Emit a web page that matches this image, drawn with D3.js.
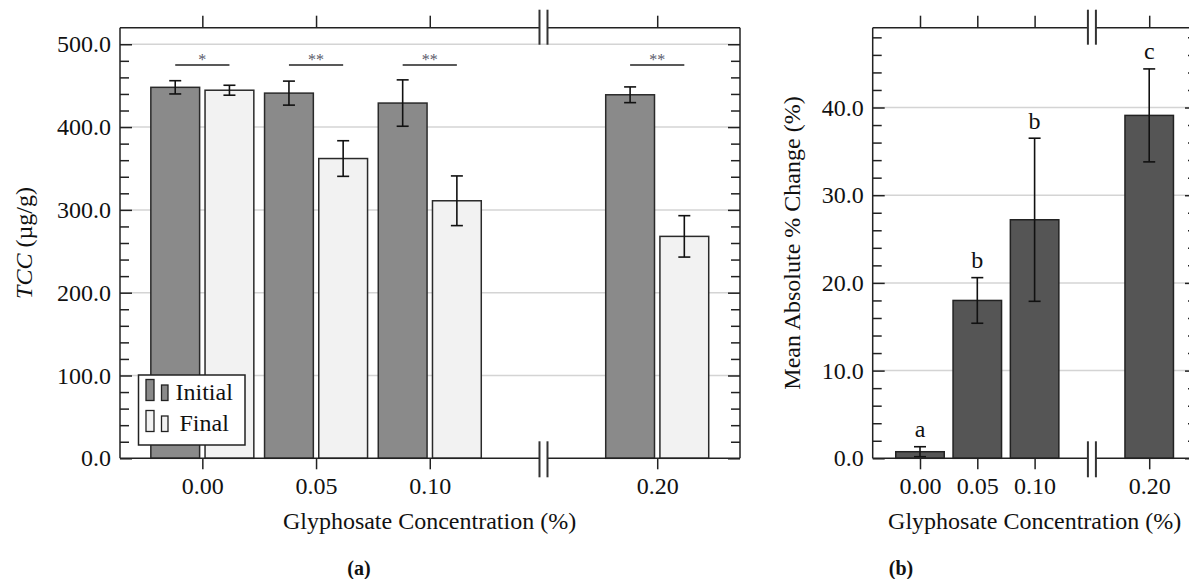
<!DOCTYPE html>
<html lang="en">
<head>
    <meta charset="UTF-8">
    <title>TCC and % change vs glyphosate concentration</title>
    <script src="https://d3js.org/d3.v7.min.js"></script>
    <style>
      body { margin: 0; background: #fff; }
      svg, svg text { font-family: "Liberation Serif", "Times New Roman", Times, Tinos, "DejaVu Serif", serif; }
      svg { display: block; }
      .frame line { stroke: #222; stroke-width: 1.5; }
      .axis path.domain { display: none; }
      .axis line { stroke: #222; stroke-width: 1.5; }
      .axis text { fill: #111; font-size: 24px; }
      .grid line { stroke: #d4d4d4; stroke-width: 1.5; }
      .err line { stroke: #111; stroke-width: 1.6; }
      .brk line { stroke: #333; stroke-width: 2; }
      .label { fill: #111; font-size: 24px; }
    </style>
</head>
<body>
    <svg width="1189" height="579"></svg>
    <script>
      // data
      const concentrations = [0, 0.05, 0.10, 0.20];
      const tickLabels = ['0.00', '0.05', '0.10', '0.20'];
      const seriesNames = ['Initial', 'Final'];
      const tccInitial = [448, 441, 429, 439];
      const tccInitialErr = [8, 14.5, 28, 9.5];
      const tccFinal = [444.5, 362, 311, 268];
      const tccFinalErr = [6, 21.5, 30, 25];
      const sigMarks = ['*', '**', '**', '**'];
      const sigLevel = 475;
      const tccTicks = [0, 100, 200, 300, 400, 500];
      const changeMean = [0.75, 18.0, 27.2, 39.1];
      const changeErr = [0.57, 2.6, 9.3, 5.3];
      const changeGroups = ['a', 'b', 'b', 'c'];
      const changeTicks = [0, 10, 20, 30, 40];
      const breakAt = 0.15;

      const svg = d3.select('svg');
      const fill = { Initial: '#8a8a8a', Final: '#f2f2f2' };

      // frame with broken top / bottom axes
      function frame(g, x, y, brk) {
        const [x0, x1] = x.range(), [y0, y1] = y.range();
        const bx = x(brk), h = 4;
        const f = g.append('g').attr('class', 'frame');
        [[x0, y0, x0, y1], [x1, y0, x1, y1],
         [x0, y1, bx - h, y1], [bx + h, y1, x1, y1],
         [x0, y0, bx - h, y0], [bx + h, y0, x1, y0]]
          .forEach(d => f.append('line').attr('x1', d[0]).attr('y1', d[1]).attr('x2', d[2]).attr('y2', d[3]));
        const b = g.append('g').attr('class', 'brk');
        [bx - h, bx + h].forEach(px => {
          b.append('line').attr('x1', px).attr('x2', px).attr('y1', y1 - 18).attr('y2', y1 + 17);
          b.append('line').attr('x1', px).attr('x2', px).attr('y1', y0 - 17).attr('y2', y0 + 19);
        });
      }

      function axes(g, x, y, major, minor, fmt) {
        const [x0, x1] = x.range(), [y0, y1] = y.range();
        const noDomain = s => s.select('.domain').remove();
        const plain = s => s.selectAll('text').attr('font-family', null);
        g.append('g').attr('class', 'grid').selectAll('line')
          .data(major.filter(v => v > 0)).enter().append('line')
          .attr('x1', x0).attr('x2', x1).attr('y1', d => y(d)).attr('y2', d => y(d));
        g.append('g').attr('class', 'axis').attr('transform', `translate(${x0},0)`)
          .call(d3.axisLeft(y).tickValues(major).tickSize(-12).tickPadding(9).tickFormat(fmt))
          .call(noDomain).attr('font-family', null).attr('font-size', null);
        g.append('g').attr('class', 'axis').attr('transform', `translate(${x0},0)`)
          .call(d3.axisLeft(y).tickValues(minor).tickSize(-9).tickFormat('')).call(noDomain);
        g.append('g').attr('class', 'axis').attr('transform', `translate(${x1},0)`)
          .call(d3.axisRight(y).tickValues(major).tickSize(-12).tickFormat('')).call(noDomain);
        g.append('g').attr('class', 'axis').attr('transform', `translate(${x1},0)`)
          .call(d3.axisRight(y).tickValues(minor).tickSize(-9).tickFormat('')).call(noDomain);
        g.append('g').attr('class', 'axis').attr('transform', `translate(0,${y1})`)
          .call(d3.axisTop(x).tickValues(concentrations).tickSize(12).tickFormat('')).call(noDomain);
        g.append('g').attr('class', 'axis').attr('transform', `translate(0,${y0})`)
          .call(d3.axisBottom(x).tickValues(concentrations).tickSize(11).tickPadding(8)
            .tickFormat((d, i) => tickLabels[i]))
          .call(noDomain).attr('font-family', null).attr('font-size', null);
      }

      function errBar(g, cx, lo, hi) {
        const e = g.append('g').attr('class', 'err');
        e.append('line').attr('x1', cx).attr('x2', cx).attr('y1', lo).attr('y2', hi);
        e.append('line').attr('x1', cx - 6).attr('x2', cx + 6).attr('y1', lo).attr('y2', lo);
        e.append('line').attr('x1', cx - 6).attr('x2', cx + 6).attr('y1', hi).attr('y2', hi);
      }

      // ---------- panel (a) ----------
      const xA = d3.scaleLinear().domain([-0.0362, 0.2364]).range([120, 740]);
      const yA = d3.scaleLinear().domain([0, 520]).range([458.3, 27.7]);
      const sub = d3.scaleBand().domain(seriesNames).range([-51.5, 51.5]).paddingInner(0.1);
      const gA = svg.append('g');

      const minorA = d3.range(20, 520, 20).filter(v => v % 100 !== 0);
      axes(gA, xA, yA, tccTicks, minorA, d3.format('.1f'));

      const tcc = [];
      concentrations.forEach((c, i) => {
        tcc.push({ c, s: 'Initial', v: tccInitial[i], e: tccInitialErr[i] });
        tcc.push({ c, s: 'Final', v: tccFinal[i], e: tccFinalErr[i] });
      });
      gA.selectAll('.bar').data(tcc).enter().append('rect')
        .attr('x', d => xA(d.c) + sub(d.s))
        .attr('y', d => yA(d.v))
        .attr('width', sub.bandwidth())
        .attr('height', d => yA(0) - yA(d.v))
        .attr('fill', d => fill[d.s])
        .attr('stroke', '#2a2a2a').attr('stroke-width', 1.5);
      tcc.forEach(d => {
        const cx = xA(d.c) + sub(d.s) + sub.bandwidth() / 2;
        errBar(gA, cx, yA(d.v - d.e), yA(d.v + d.e));
      });

      // significance brackets
      concentrations.forEach((c, i) => {
        const xa = xA(c) + sub('Initial') + sub.bandwidth() / 2;
        const xb = xA(c) + sub('Final') + sub.bandwidth() / 2;
        gA.append('line').attr('x1', xa).attr('x2', xb).attr('y1', yA(sigLevel)).attr('y2', yA(sigLevel))
          .attr('stroke', '#222').attr('stroke-width', 1.5);
        gA.append('text').attr('x', xA(c)).attr('y', yA(sigLevel) + 0.5)
          .attr('text-anchor', 'middle').attr('font-size', 16).attr('fill', '#5a5a6a')
          .text(sigMarks[i]);
      });

      frame(gA, xA, yA, breakAt);

      // legend
      const lg = gA.append('g').attr('transform', 'translate(138.5,375)');
      lg.append('rect').attr('width', 106.5).attr('height', 70)
        .attr('fill', '#fff').attr('stroke', '#222').attr('stroke-width', 1.5);
      seriesNames.forEach((s, i) => {
        const row = lg.append('g').attr('transform', `translate(0,${4.5 + i * 31})`);
        row.append('rect').attr('x', 7.5).attr('y', 0).attr('width', 8).attr('height', 21)
          .attr('fill', fill[s]).attr('stroke', '#222').attr('stroke-width', 1.3);
        row.append('rect').attr('x', 23).attr('y', 5.5).attr('width', 6.5).attr('height', 15.5)
          .attr('fill', fill[s]).attr('stroke', '#222').attr('stroke-width', 1.3);
        row.append('text').attr('class', 'label').attr('x', 37 + i * 4).attr('y', 20.5).text(s);
      });

      gA.append('text').attr('class', 'label').attr('text-anchor', 'middle')
        .attr('x', 429.5).attr('y', 529).text('Glyphosate Concentration (%)');
      const yl = gA.append('text').attr('class', 'label').attr('text-anchor', 'middle')
        .attr('transform', 'translate(31.5,243) rotate(-90)');
      yl.append('tspan').attr('font-style', 'italic').text('TCC');
      yl.append('tspan').text(' (µg/g)');
      gA.append('text').attr('x', 359).attr('y', 575).attr('text-anchor', 'middle')
        .attr('font-weight', 'bold').attr('font-size', 20).attr('fill', '#111').text('(a)');

      // ---------- panel (b) ----------
      const xB = d3.scaleLinear().domain([-0.04127, 0.2417]).range([872.7, 1197]);
      const yB = d3.scaleLinear().domain([0, 49.1]).range([458.3, 27.7]);
      const gB = svg.append('g');
      const minorB = d3.range(2, 49, 2).filter(v => v % 10 !== 0);
      axes(gB, xB, yB, changeTicks, minorB, d3.format('.1f'));

      const bw = 48.5;
      gB.selectAll('.bar').data(changeMean).enter().append('rect')
        .attr('x', (d, i) => xB(concentrations[i]) - bw / 2)
        .attr('y', d => yB(d))
        .attr('width', bw)
        .attr('height', d => yB(0) - yB(d))
        .attr('fill', '#555555')
        .attr('stroke', '#222').attr('stroke-width', 1.5);
      changeMean.forEach((m, i) => {
        const cx = xB(concentrations[i]);
        errBar(gB, cx, yB(m - changeErr[i]), yB(m + changeErr[i]));
        gB.append('text').attr('class', 'label').attr('text-anchor', 'middle')
          .attr('x', cx).attr('y', yB(m + changeErr[i]) - 9.5).text(changeGroups[i]);
      });

      frame(gB, xB, yB, breakAt);

      gB.append('text').attr('class', 'label').attr('text-anchor', 'middle')
        .attr('x', 1034.7).attr('y', 529).text('Glyphosate Concentration (%)');
      gB.append('text').attr('class', 'label').attr('text-anchor', 'middle')
        .attr('transform', 'translate(800,243) rotate(-90)').text('Mean Absolute % Change (%)');
      gB.append('text').attr('x', 901).attr('y', 575).attr('text-anchor', 'middle')
        .attr('font-weight', 'bold').attr('font-size', 20).attr('fill', '#111').text('(b)');
    </script>
</body>
</html>
